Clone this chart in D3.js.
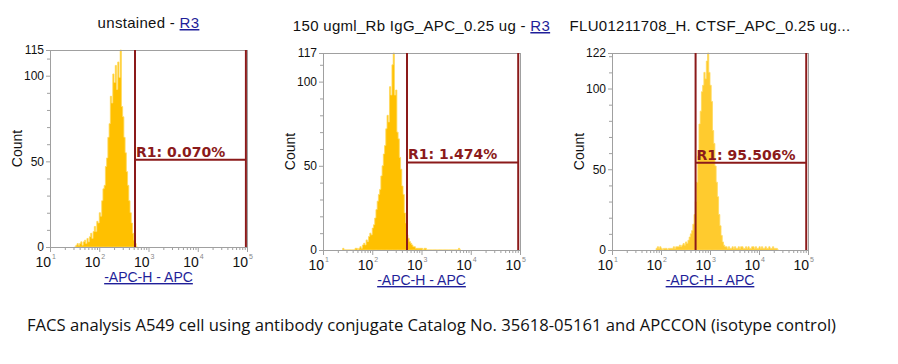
<!DOCTYPE html>
<html><head><meta charset="utf-8">
<script src="https://cdn.jsdelivr.net/npm/d3@7"></script>
<style>
html,body{margin:0;padding:0;background:#fff;}
svg{display:block;}
</style></head>
<body>
<svg id="chart" width="898" height="364"></svg>
<script>
// ---------- DATA ----------
const panelTitles = ["unstained - ", "150 ugml_Rb IgG_APC_0.25 ug - ", "FLU01211708_H. CTSF_APC_0.25 ug..."];
const titleLinks = ["R3", "R3", ""];
const yMaxValues = [115, 117, 122];
const gateLabels = ["R1: 0.070%", "R1: 1.474%", "R1: 95.506%"];
const gateLow = [532, 508, 508];
const gateHigh = [95000, 92000, 92000];
const gateLevel = [51, 52, 54];
const xDecades = [1, 2, 3, 4, 5];
const xAxisLabel = "-APC-H - APC";
const yAxisLabel = "Count";
const caption = "FACS analysis A549 cell using antibody conjugate Catalog No. 35618-05161 and APCCON (isotype control)";
const binStep = 0.025; // log10 width of each channel
const binStart = [1.50, 1.40, 1.90];
const counts1 = [0,1,2,1,2,3,1,3,4,2,5,3,6,8,5,9,12,9,15,14,20,18,27,34,36,47,52,64,72,88,84,101,96,106,92,108,99,115,82,76,64,55,44,36,27,20,14,8,4,2,0];
const counts2 = [1,0,0,0,0,0,0,0,0,0,1,1,0,1,2,1,3,4,3,6,5,8,10,9,13,15,19,24,29,33,36,44,50,57,62,72,80,76,97,92,110,117,92,95,70,66,55,48,38,33,22,16,9,7,5,4,3,2,2,1,1,1,1,1,1,0,1,1,0,
  0,0,0,0,0,0,0,0,0,0,0,0,0,0,0,0,0,0,0,0,0,0,0,0,0,1,0];
const counts3 = [1,2,1,2,1,0,1,1,1,0,1,1,1,1,2,1,2,2,2,3,2,3,4,3,5,4,6,8,10,12,16,22,30,42,58,78,86,98,102,110,106,117,122,110,102,92,74,66,52,42,33,22,15,9,5,3,2,2,
  1,2,1,1,2,1,2,1,1,2,1,2,2,1,1,2,1,2,1,1,2,2,1,2,1,1,2,1,2,1,1,2,1,1,2,1,1,2,1,1,1,0];
const allCounts = [counts1, counts2, counts3];

// ---------- LAYOUT ----------
const layouts = [
  {x0: 50, x1: 247, y0: 50, y1: 247},
  {x0: 323, x1: 520, y0: 53, y1: 250},
  {x0: 612, x1: 808, y0: 53, y1: 250}
];
const fills = ["#FFC000", "#FFC000", "#FFCB2E"];
const svg = d3.select("#chart");
const gateColor = "#8B1A1A";
const axisColor = "#A0A0A0";
const linkColor = "#1F1F99";
const sans = "Liberation Sans, Arial, sans-serif";

layouts.forEach((L, p) => {
  const g = svg.append("g");
  const x = d3.scaleLog().domain([10, 100000]).range([L.x0, L.x1]);
  const y = d3.scaleLinear().domain([0, yMaxValues[p]]).range([L.y1, L.y0]);
  const cx = (L.x0 + L.x1) / 2;

  // title
  const t = g.append("text").attr("x", cx).attr("y", L.y0 - 22)
    .attr("text-anchor", "middle").attr("font-family", sans)
    .attr("font-size", 15).attr("letter-spacing", 0.3).attr("fill", "#111");
  t.append("tspan").text(panelTitles[p]);
  if (titleLinks[p]) t.append("tspan").attr("fill", linkColor).attr("text-decoration", "underline").text(titleLinks[p]);

  // histogram
  const data = allCounts[p].map((c, i) => ({v: Math.pow(10, binStart[p] + i * binStep), c}));
  const last = allCounts[p].length;
  data.push({v: Math.pow(10, binStart[p] + last * binStep), c: 0});
  const area = d3.area().x(d => x(d.v)).y0(y(0)).y1(d => y(d.c)).curve(d3.curveStepAfter);
  g.append("path").datum(data).attr("d", area)
    .attr("fill", fills[p]).attr("stroke", "#FFD95A").attr("stroke-width", 0.8);

  // frame
  g.append("rect").attr("x", L.x0).attr("y", L.y0).attr("width", L.x1 - L.x0).attr("height", L.y1 - L.y0)
    .attr("fill", "none").attr("stroke", axisColor).attr("stroke-width", 1).attr("shape-rendering", "crispEdges");

  // y axis
  const yMajor = [0, 50, 100, yMaxValues[p]];
  const yMinor = d3.range(0, yMaxValues[p] + 1, 10).filter(v => !yMajor.includes(v));
  const ya = d3.axisLeft(y).tickValues(yMajor).tickSize(4).tickPadding(2).tickFormat(d3.format("d"));
  const yg = g.append("g").attr("transform", `translate(${L.x0},0)`).call(ya);
  yg.select(".domain").attr("stroke", axisColor);
  yg.selectAll(".tick line").attr("stroke", axisColor);
  yg.selectAll("text").attr("font-family", sans).attr("font-size", 12).attr("fill", "#111");
  g.append("g").attr("transform", `translate(${L.x0},0)`).call(d3.axisLeft(y).tickValues(yMinor).tickSize(3).tickFormat(""))
    .call(s => { s.select(".domain").remove(); s.selectAll("line").attr("stroke", axisColor); });

  // x axis
  const majors = xDecades.map(d => Math.pow(10, d));
  const minors = [];
  for (let d = 1; d < 5; d++) for (let m = 2; m <= 9; m++) minors.push(m * Math.pow(10, d));
  g.append("g").attr("transform", `translate(0,${L.y1})`).call(d3.axisBottom(x).tickValues(minors).tickSize(3).tickFormat(""))
    .call(s => { s.select(".domain").attr("stroke", axisColor); s.selectAll("line").attr("stroke", axisColor); });
  const xg = g.append("g").attr("transform", `translate(0,${L.y1})`).call(d3.axisBottom(x).tickValues(majors).tickSize(5).tickFormat(""));
  xg.select(".domain").remove();
  xg.selectAll("line").attr("stroke", axisColor);
  xDecades.forEach(d => {
    const px = x(Math.pow(10, d));
    g.append("text").attr("x", px + 1).attr("y", L.y1 + 20)
      .attr("text-anchor", "end").attr("font-family", sans)
      .attr("font-size", 14).attr("fill", "#111").text("10");
    g.append("text").attr("x", px + 2).attr("y", L.y1 + 12)
      .attr("font-family", sans).attr("font-size", 7).attr("fill", "#888").text(d);
  });

  // axis labels
  g.append("text").attr("x", cx).attr("y", L.y1 + 35).attr("text-anchor", "middle")
    .attr("font-family", sans).attr("font-size", 14)
    .attr("fill", linkColor).attr("text-decoration", "underline").text(xAxisLabel);
  g.append("text").attr("transform", `translate(${L.x0 - 28},${(L.y0 + L.y1) / 2}) rotate(-90)`)
    .attr("text-anchor", "middle").attr("font-family", sans)
    .attr("font-size", 14).attr("fill", "#111").text(yAxisLabel);

  // gate
  const gx0 = x(gateLow[p]), gx1 = x(gateHigh[p]), gy = y(gateLevel[p]);
  g.append("line").attr("x1", gx0).attr("x2", gx0).attr("y1", L.y0).attr("y2", L.y1).attr("stroke", gateColor).attr("stroke-width", 2);
  g.append("line").attr("x1", gx1).attr("x2", gx1).attr("y1", L.y0).attr("y2", L.y1).attr("stroke", gateColor).attr("stroke-width", 2);
  g.append("line").attr("x1", gx0).attr("x2", gx1).attr("y1", gy).attr("y2", gy).attr("stroke", gateColor).attr("stroke-width", 2);
  g.append("text").attr("x", gx0 + 1).attr("y", gy - 3)
    .attr("font-family", "DejaVu Sans, Verdana, sans-serif").attr("font-size", 14).attr("font-weight", "bold")
    .attr("fill", gateColor).text(gateLabels[p]);
});

// caption
const cap = svg.append("text").attr("x", 27).attr("y", 331)
  .attr("font-family", "Open Sans, Liberation Sans, sans-serif").attr("font-size", 16)
  .attr("fill", "#111").text(caption);
const w = cap.node().getComputedTextLength();
if (Math.abs(w - 809) > 4) cap.attr("textLength", 809).attr("lengthAdjust", "spacingAndGlyphs");
</script>
</body></html>
